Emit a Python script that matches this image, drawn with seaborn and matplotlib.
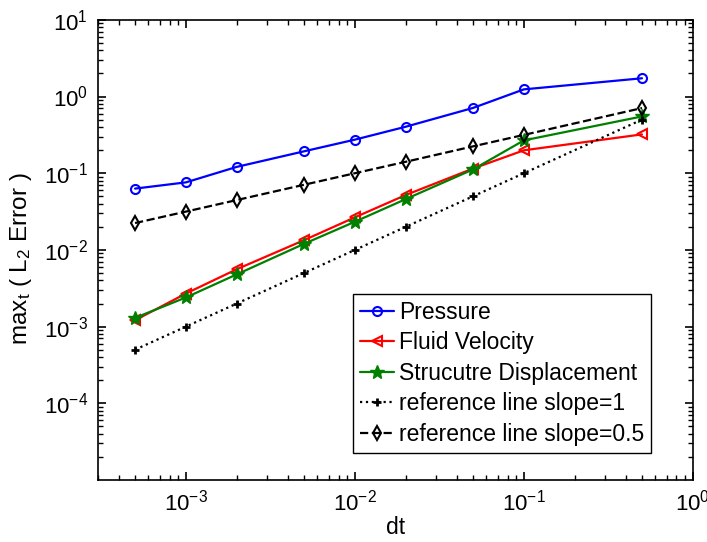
import pandas as pd
import matplotlib
matplotlib.use("Agg")
import matplotlib.pyplot as plt
import seaborn as sns

# --- Data ---
dt = [5e-4, 1e-3, 2e-3, 5e-3, 1e-2, 2e-2, 5e-2, 1e-1, 5e-1]
pressure = [0.063, 0.076, 0.121, 0.193, 0.274, 0.404, 0.71, 1.24, 1.73]
fluid_velocity = [1.21e-3, 2.7e-3, 5.6e-3, 1.34e-2, 2.66e-2, 5.2e-2, 0.115, 0.199, 0.321]
structure_disp = [1.30e-3, 2.40e-3, 4.8e-3, 1.20e-2, 2.33e-2, 4.6e-2, 0.112, 0.268, 0.55]
ref_slope1 = [5e-4, 1e-3, 2e-3, 5e-3, 1e-2, 2e-2, 5e-2, 1e-1, 5e-1]
ref_slope05 = [0.0224, 0.0316, 0.0447, 0.0707, 0.1, 0.141, 0.224, 0.316, 0.707]

labels = ['Pressure', 'Fluid Velocity', 'Strucutre Displacement',
          'reference line slope=1', 'reference line slope=0.5']
y_ticks = [1e-4, 1e-3, 1e-2, 1e-1, 1e0, 1e1]

sns.set_theme(style="white")
plt.rcParams['font.family'] = ['Liberation Sans', 'DejaVu Sans']
plt.rcParams['mathtext.fontset'] = 'custom'
plt.rcParams['mathtext.rm'] = 'Liberation Sans'
plt.rcParams['mathtext.it'] = 'Liberation Sans:italic'
plt.rcParams['mathtext.bf'] = 'Liberation Sans:bold'
plt.rcParams['text.color'] = 'black'
plt.rcParams['axes.labelcolor'] = 'black'
plt.rcParams['xtick.color'] = 'black'
plt.rcParams['ytick.color'] = 'black'

fig = plt.figure(figsize=(7.07, 5.42), dpi=100)
ax = fig.add_axes([0.138, 0.1144, 0.842, 0.849])

series = [
    (pressure, labels[0], dict(color='#0000ff', marker='o', mfc='none', mec='#0000ff',
                               linestyle='-', ms=6.5, mew=1.5)),
    (fluid_velocity, labels[1], dict(color='#ff0000', marker='<', mfc='none', mec='#ff0000',
                                     linestyle='-', ms=7.5, mew=1.5)),
    (structure_disp, labels[2], dict(color='#008000', marker='*', mfc='#008000', mec='#008000',
                                     linestyle='-', ms=10, mew=1.0)),
    (ref_slope1, labels[3], dict(color='black', marker='+', mec='black',
                                 linestyle=':', ms=5.5, mew=2.0)),
    (ref_slope05, labels[4], dict(color='black', marker='d', mfc='none', mec='black',
                                  linestyle='--', ms=7.5, mew=1.5)),
]

for vals, lab, kw in series:
    df = pd.DataFrame({'dt': dt, 'err': vals})
    sns.lineplot(data=df, x='dt', y='err', ax=ax, label=lab, linewidth=1.6, **kw)

ax.set_xscale('log')
ax.set_yscale('log')
ax.set_xlim(3e-4, 1)
ax.set_ylim(1e-5, 10)
ax.set_yticks(y_ticks)

ax.set_xlabel('dt', fontsize=16.5, labelpad=0)
ax.set_ylabel(r'max$_{\mathregular{t}}$ ( L$_{\mathregular{2}}$ Error )', fontsize=17.5, labelpad=4)
ax.yaxis.set_label_coords(-0.107, 0.48)

ax.tick_params(which='both', direction='in', top=True, right=True,
               bottom=True, left=True, labelsize=16, color='black')
ax.tick_params(which='major', length=6, width=1.2, pad=7)
ax.tick_params(which='minor', length=3.5, width=1.0)
for s in ax.spines.values():
    s.set_color('black')
    s.set_linewidth(1.2)

leg = ax.legend(loc='lower right', bbox_to_anchor=(0.93, 0.059), borderaxespad=0,
                fontsize=16.5, frameon=True, fancybox=False, edgecolor='black',
                framealpha=1, handlelength=1.5, handletextpad=0.2,
                labelspacing=0.33, borderpad=0.3)
leg.get_frame().set_linewidth(1.0)

fig.savefig('out.png', dpi=100)
